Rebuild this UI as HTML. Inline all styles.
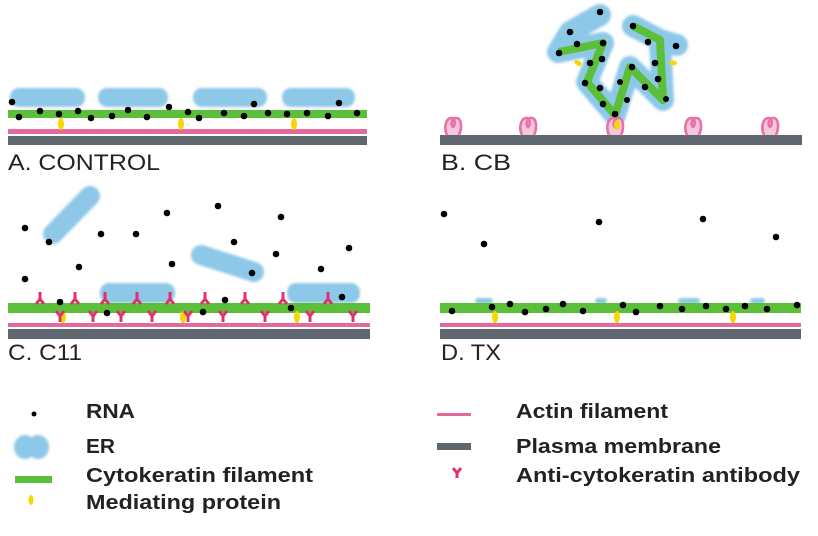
<!DOCTYPE html>
<html><head><meta charset="utf-8"><style>html,body{margin:0;padding:0;background:#fff}svg{display:block}</style></head>
<body>
<svg width="818" height="536" viewBox="0 0 818 536" xmlns="http://www.w3.org/2000/svg" font-family="Liberation Sans, sans-serif">
<defs>
<filter id="b" x="-20%" y="-20%" width="140%" height="140%"><feGaussianBlur stdDeviation="1.2"/></filter>
<g id="curl"><path d="M-6,0 C-9,-6 -8,-16 -2,-17 C2,-18 3,-10 0,-8 C-3,-10 -1,-18 4,-17 C9,-16 9,-6 6,0" stroke="#e872a8" stroke-width="2.6" fill="#f5c6dd"/></g>
</defs>
<!-- Panel A -->
<g fill="#8ec8e8" filter="url(#b)">
<rect x="10" y="88" width="75" height="19" rx="9"/>
<rect x="98" y="88" width="70" height="19" rx="9"/>
<rect x="193" y="88" width="74" height="19" rx="9"/>
<rect x="282" y="88" width="73" height="19" rx="9"/>
</g>
<rect x="8" y="110" width="359" height="8" fill="#5cbf3a"/>
<rect x="8" y="129" width="359" height="5" fill="#e3699f"/>
<rect x="8" y="136" width="359" height="9" fill="#5e6670"/>
<g fill="#f5d800"><ellipse cx="61" cy="124" rx="3" ry="6"/><ellipse cx="181" cy="124" rx="3" ry="6"/><ellipse cx="294" cy="124" rx="3" ry="6"/></g>
<g fill="#000">
<circle cx="12" cy="102" r="3.3"/><circle cx="19" cy="117" r="3.3"/><circle cx="40" cy="111" r="3.3"/><circle cx="59" cy="114" r="3.3"/><circle cx="78" cy="111" r="3.3"/><circle cx="91" cy="118" r="3.3"/><circle cx="112" cy="116" r="3.3"/><circle cx="128" cy="110" r="3.3"/><circle cx="147" cy="117" r="3.3"/><circle cx="169" cy="107" r="3.3"/><circle cx="188" cy="112" r="3.3"/><circle cx="199" cy="118" r="3.3"/><circle cx="224" cy="113" r="3.3"/><circle cx="244" cy="116" r="3.3"/><circle cx="254" cy="104" r="3.3"/><circle cx="268" cy="113" r="3.3"/><circle cx="287" cy="114" r="3.3"/><circle cx="307" cy="113" r="3.3"/><circle cx="328" cy="116" r="3.3"/><circle cx="339" cy="103" r="3.3"/><circle cx="357" cy="113" r="3.3"/>
</g>
<text x="8" y="170" font-size="22" fill="#222" textLength="152" lengthAdjust="spacingAndGlyphs">A.  CONTROL</text>

<!-- Panel B -->
<g stroke="#8ec8e8" stroke-width="22" stroke-linecap="round" stroke-linejoin="round" fill="none" filter="url(#b)">
<polyline points="600,15 570,32 558,52 603,43 587,82 615,115 630,67 663,100 660,40 633,26"/>
<polyline points="660,40 677,45"/>
</g>
<polyline points="559,52 603,43 587,82 615,115 630,67 663,100 660,40 633,26" stroke="#5cbf3a" stroke-width="8" fill="none" stroke-linejoin="round"/>
<rect x="440" y="135" width="362" height="10" fill="#5e6670"/>
<use href="#curl" x="453" y="135"/><use href="#curl" x="528" y="135"/><use href="#curl" x="615" y="135"/><use href="#curl" x="693" y="135"/><use href="#curl" x="770" y="135"/>
<g fill="#f5d800"><ellipse cx="578" cy="63" rx="4" ry="2.5" transform="rotate(30 578 63)"/><ellipse cx="673" cy="63" rx="4" ry="2.5"/><ellipse cx="617" cy="125" rx="3" ry="5"/></g>
<g fill="#000">
<circle cx="600" cy="12" r="3.3"/><circle cx="570" cy="32" r="3.3"/><circle cx="577" cy="44" r="3.3"/><circle cx="603" cy="43" r="3.3"/><circle cx="559" cy="53" r="3.3"/><circle cx="590" cy="63" r="3.3"/><circle cx="602" cy="59" r="3.3"/><circle cx="585" cy="83" r="3.3"/><circle cx="600" cy="88" r="3.3"/><circle cx="603" cy="104" r="3.3"/><circle cx="615" cy="114" r="3.3"/><circle cx="632" cy="67" r="3.3"/><circle cx="620" cy="82" r="3"/><circle cx="627" cy="100" r="3"/><circle cx="633" cy="26" r="3.3"/><circle cx="648" cy="42" r="3.3"/><circle cx="676" cy="46" r="3.3"/><circle cx="655" cy="63" r="3.3"/><circle cx="658" cy="79" r="3.3"/><circle cx="645" cy="87" r="3.3"/><circle cx="666" cy="99" r="3"/>
</g>
<text x="441" y="170" font-size="22" fill="#222" textLength="70" lengthAdjust="spacingAndGlyphs">B.  CB</text>

<!-- Panel C -->
<g stroke="#8ec8e8" stroke-width="20" stroke-linecap="round" fill="none" filter="url(#b)">
<line x1="90" y1="196" x2="53" y2="234"/>
<line x1="201" y1="255" x2="254" y2="272"/>
</g>
<g fill="#8ec8e8" filter="url(#b)">
<rect x="100" y="283" width="75" height="20" rx="9"/>
<rect x="287" y="283" width="73" height="20" rx="9"/>
</g>
<rect x="8" y="303" width="362" height="10" fill="#5cbf3a"/>
<rect x="8" y="323" width="362" height="4" fill="#e3699f"/>
<rect x="8" y="329" width="362" height="10" fill="#5e6670"/>
<g fill="#f5d800"><ellipse cx="63" cy="317" rx="3" ry="6"/><ellipse cx="183" cy="317" rx="3" ry="6"/><ellipse cx="297" cy="317" rx="3" ry="6"/></g>
<g stroke="#e0306e" stroke-width="3" fill="none">
<path d="M40,292v7l-4,5M40,299l4,5 M75,292v7l-4,5M75,299l4,5 M105,292v7l-4,5M105,299l4,5 M137,292v7l-4,5M137,299l4,5 M170,292v7l-4,5M170,299l4,5 M205,292v7l-4,5M205,299l4,5 M245,292v7l-4,5M245,299l4,5 M283,292v7l-4,5M283,299l4,5 M328,292v7l-4,5M328,299l4,5"/>
<path d="M60,322v-6l-4,-5M60,316l4,-5 M93,322v-6l-4,-5M93,316l4,-5 M121,322v-6l-4,-5M121,316l4,-5 M152,322v-6l-4,-5M152,316l4,-5 M188,322v-6l-4,-5M188,316l4,-5 M223,322v-6l-4,-5M223,316l4,-5 M265,322v-6l-4,-5M265,316l4,-5 M310,322v-6l-4,-5M310,316l4,-5 M353,322v-6l-4,-5M353,316l4,-5"/>
</g>
<g fill="#000">
<circle cx="25" cy="228" r="3.3"/><circle cx="49" cy="242" r="3.3"/><circle cx="101" cy="234" r="3.3"/><circle cx="136" cy="234" r="3.3"/><circle cx="167" cy="213" r="3.3"/><circle cx="218" cy="206" r="3.3"/><circle cx="281" cy="217" r="3.3"/><circle cx="234" cy="242" r="3.3"/><circle cx="276" cy="254" r="3.3"/><circle cx="349" cy="248" r="3.3"/><circle cx="79" cy="267" r="3.3"/><circle cx="172" cy="264" r="3.3"/><circle cx="252" cy="273" r="3.3"/><circle cx="321" cy="269" r="3.3"/><circle cx="25" cy="279" r="3.3"/>
<circle cx="60" cy="302" r="3.3"/><circle cx="107" cy="313" r="3.3"/><circle cx="225" cy="300" r="3.3"/><circle cx="203" cy="312" r="3.3"/><circle cx="291" cy="308" r="3.3"/><circle cx="342" cy="297" r="3.3"/>
</g>
<text x="8" y="360" font-size="22" fill="#222" textLength="74" lengthAdjust="spacingAndGlyphs">C.  C11</text>

<!-- Panel D -->
<g fill="#8ec8e8" filter="url(#b)">
<rect x="475" y="298" width="18" height="6" rx="3"/><rect x="595" y="298" width="12" height="6" rx="3"/><rect x="678" y="298" width="22" height="6" rx="3"/><rect x="750" y="298" width="15" height="6" rx="3"/>
</g>
<rect x="440" y="303" width="361" height="10" fill="#5cbf3a"/>
<rect x="440" y="323" width="361" height="4" fill="#e3699f"/>
<rect x="440" y="329" width="361" height="10" fill="#5e6670"/>
<g fill="#f5d800"><ellipse cx="495" cy="317" rx="3" ry="6"/><ellipse cx="617" cy="317" rx="3" ry="6"/><ellipse cx="733" cy="317" rx="3" ry="6"/></g>
<g fill="#000">
<circle cx="444" cy="214" r="3.3"/><circle cx="484" cy="244" r="3.3"/><circle cx="599" cy="222" r="3.3"/><circle cx="703" cy="219" r="3.3"/><circle cx="776" cy="237" r="3.3"/>
<circle cx="452" cy="311" r="3.3"/><circle cx="492" cy="307" r="3.3"/><circle cx="510" cy="304" r="3.3"/><circle cx="525" cy="312" r="3.3"/><circle cx="546" cy="309" r="3.3"/><circle cx="563" cy="304" r="3.3"/><circle cx="583" cy="311" r="3.3"/><circle cx="623" cy="305" r="3.3"/><circle cx="636" cy="312" r="3.3"/><circle cx="660" cy="306" r="3.3"/><circle cx="682" cy="309" r="3.3"/><circle cx="706" cy="306" r="3.3"/><circle cx="726" cy="309" r="3.3"/><circle cx="745" cy="306" r="3.3"/><circle cx="767" cy="309" r="3.3"/><circle cx="797" cy="305" r="3.3"/>
</g>
<text x="441" y="360" font-size="22" fill="#222" textLength="60" lengthAdjust="spacingAndGlyphs">D.  TX</text>

<!-- Legend -->
<circle cx="34" cy="414" r="2.5" fill="#000"/>
<g fill="#8ec8e8" filter="url(#b)"><ellipse cx="25" cy="447" rx="11" ry="12"/><ellipse cx="38" cy="447" rx="11" ry="12"/></g>
<rect x="15" y="476" width="37" height="7" fill="#5cbf3a"/>
<ellipse cx="31" cy="500" rx="2.5" ry="5" fill="#f5d800"/>
<rect x="437" y="413" width="34" height="3" fill="#e3699f"/>
<rect x="437" y="443" width="34" height="7" fill="#5e6670"/>
<path d="M457,478v-5l-4,-5M457,473l4,-5" stroke="#e0306e" stroke-width="3" fill="none"/>
<g font-size="20" fill="#222" font-weight="bold">
<text x="86" y="418" textLength="49" lengthAdjust="spacingAndGlyphs">RNA</text>
<text x="86" y="453" textLength="29" lengthAdjust="spacingAndGlyphs">ER</text>
<text x="86" y="482" textLength="227" lengthAdjust="spacingAndGlyphs">Cytokeratin filament</text>
<text x="86" y="509" textLength="195" lengthAdjust="spacingAndGlyphs">Mediating protein</text>
<text x="516" y="418" textLength="152" lengthAdjust="spacingAndGlyphs">Actin filament</text>
<text x="516" y="453" textLength="205" lengthAdjust="spacingAndGlyphs">Plasma membrane</text>
<text x="516" y="482" textLength="284" lengthAdjust="spacingAndGlyphs">Anti-cytokeratin antibody</text>
</g>
</svg>
</body></html>
